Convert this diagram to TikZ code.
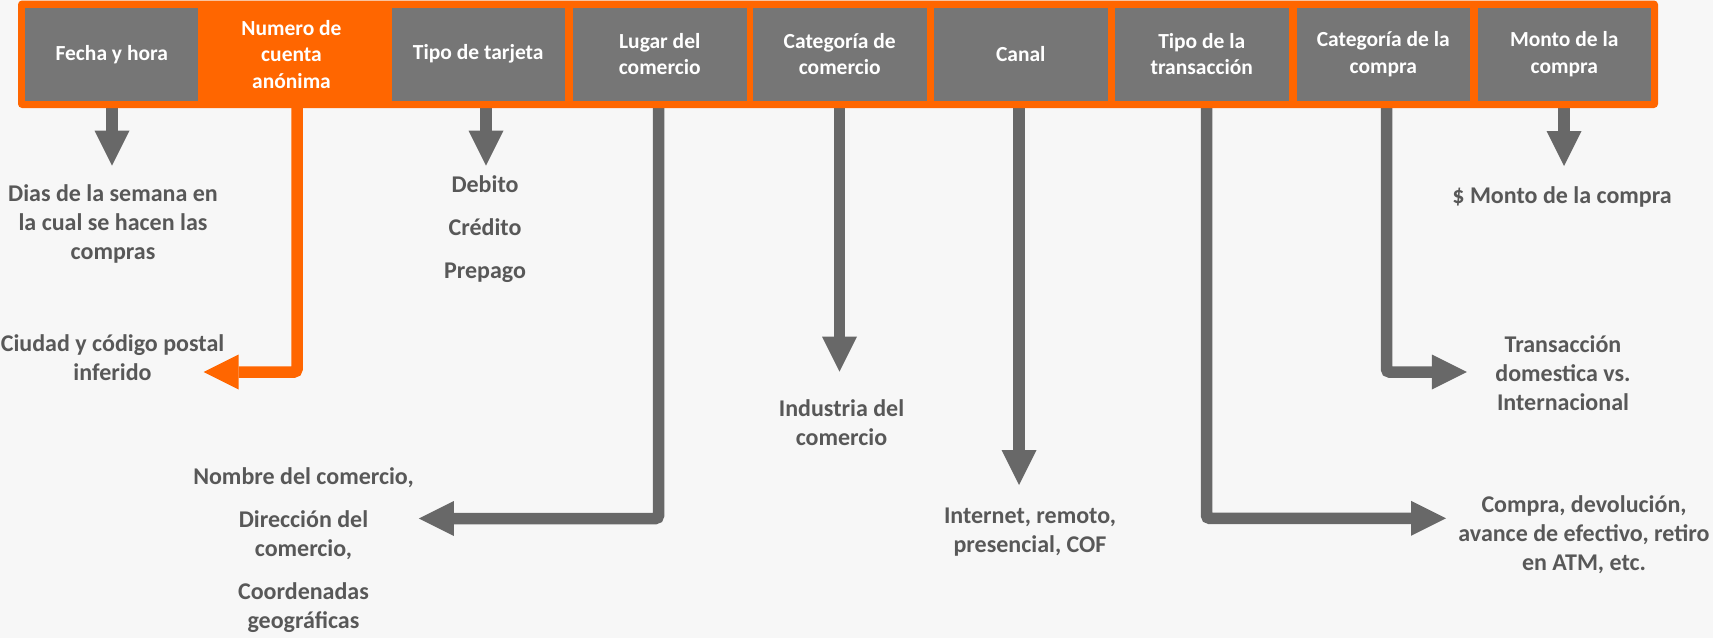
\documentclass[tikz,border=0pt]{standalone}
\usepackage{fontspec}
\setmainfont{Carlito}
\usetikzlibrary{arrows.meta}
\definecolor{orng}{RGB}{255,102,0}
\definecolor{boxgray}{RGB}{118,118,118}
\definecolor{arrgray}{RGB}{104,104,104}
\definecolor{txtgray}{RGB}{88,88,88}
\definecolor{bggray}{RGB}{247,247,247}
\pgfdeclarelayer{bg}
\pgfdeclarelayer{arr}
\pgfsetlayers{bg,arr,main}
\tikzset{
    hdr/.style={fill=boxgray, text=white, minimum width=173.5pt, minimum height=93pt, inner sep=0pt, align=center, font=\bfseries\fontsize{21.5}{26.5}\selectfont},
    lbl/.style={text=txtgray, inner sep=0pt, align=center, font=\bfseries\fontsize{24}{29}\selectfont},
    garrow/.style={draw=arrgray, line width=11.5pt, rounded corners=3pt, -{Triangle[length=35pt,width=35pt,line width=0pt]}},
    oarrow/.style={garrow, draw=orng},
}
\begin{document}
\begin{tikzpicture}[x=1pt,y=1pt,yscale=-1,xscale=1]
    \begin{pgfonlayer}{bg}
    \fill[bggray] (0,0) rectangle (1713,638);
    \end{pgfonlayer}
    \fill[orng, rounded corners=4pt] (18,0.5) rectangle (1658,108);
    \node [hdr] (fecha) at (111.75,54.2) {Fecha y hora};
    \node [hdr, fill=orng, minimum width=187pt] (cuenta) at (291.5,54.2) {Numero de\\cuenta\\anónima};
    \node [hdr] (tarjeta) at (478.25,54.2) {Tipo de tarjeta};
    \node [hdr] (lugar) at (659.75,54.2) {Lugar del\\comercio};
    \node [hdr] (categoria) at (839.75,54.2) {Categoría de\\comercio};
    \node [hdr] (canal) at (1020.75,54.2) {Canal};
    \node [hdr] (tipo) at (1201.75,54.2) {Tipo de la\\transacción};
    \node [hdr] (catcompra) at (1383.25,54.2) {Categoría de la\\compra};
    \node [hdr] (monto) at (1564.25,54.2) {Monto de la\\compra};

    \coordinate (diasTip) at (112,165.7);
    \coordinate (tarjetaTip) at (486,165.7);
    \coordinate (montoTip) at (1564,166);
    \coordinate (industriaTip) at (839.5,371.7);
    \coordinate (canalTip) at (1019,485);
    \coordinate (ciudadTip) at (203.6,372);
    \coordinate (lugarTip) at (418.8,518.5);
    \coordinate (tipoTip) at (1446,518.3);
    \coordinate (catTip) at (1466.8,372);

    \begin{pgfonlayer}{arr}
    \draw [garrow] (fecha.south -| diasTip) -- (diasTip);
    \draw [garrow] (tarjeta.south -| tarjetaTip) -- (tarjetaTip);
    \draw [garrow] (monto.south -| montoTip) -- (montoTip);
    \draw [garrow] (categoria.south -| industriaTip) -- (industriaTip);
    \draw [garrow] (canal.south -| canalTip) -- (canalTip);
    \draw [oarrow] ([xshift=5.5pt]cuenta.south) |- (ciudadTip);
    \draw [garrow] ([xshift=-1.25pt]lugar.south) |- (lugarTip);
    \draw [garrow] ([xshift=4.75pt]tipo.south) |- (tipoTip);
    \draw [garrow] ([xshift=3.25pt]catcompra.south) |- (catTip);
    \end{pgfonlayer}

    \node [lbl] (dias) at (113,224) {Dias de la semana en\\la cual se hacen las\\compras};
    \node [lbl] (ciudad) at (112.5,358) {Ciudad y código postal\\inferido};
    \node [lbl] (tarjetas) at (485,229) {Debito\\[14pt]Crédito\\[14pt]Prepago};
    \node [lbl] (comercio) at (303.5,550.3) {Nombre del comercio,\\[13.5pt]Dirección del\\comercio,\\[14pt]Coordenadas\\geográficas};
    \node [lbl] (industria) at (841.5,423) {Industria del\\comercio};
    \node [lbl] (internet) at (1030,532) {Internet, remoto,\\presencial, COF};
    \node [lbl] (transac) at (1563,373) {Transacción\\domestica vs.\\Internacional};
    \node [lbl] (compra) at (1584,534.5) {Compra, devolución,\\avance de efectivo, retiro\\en ATM, etc.};
    \node [lbl] (montotxt) at (1562,197) {\$ Monto de la compra};
\end{tikzpicture}
\end{document}
